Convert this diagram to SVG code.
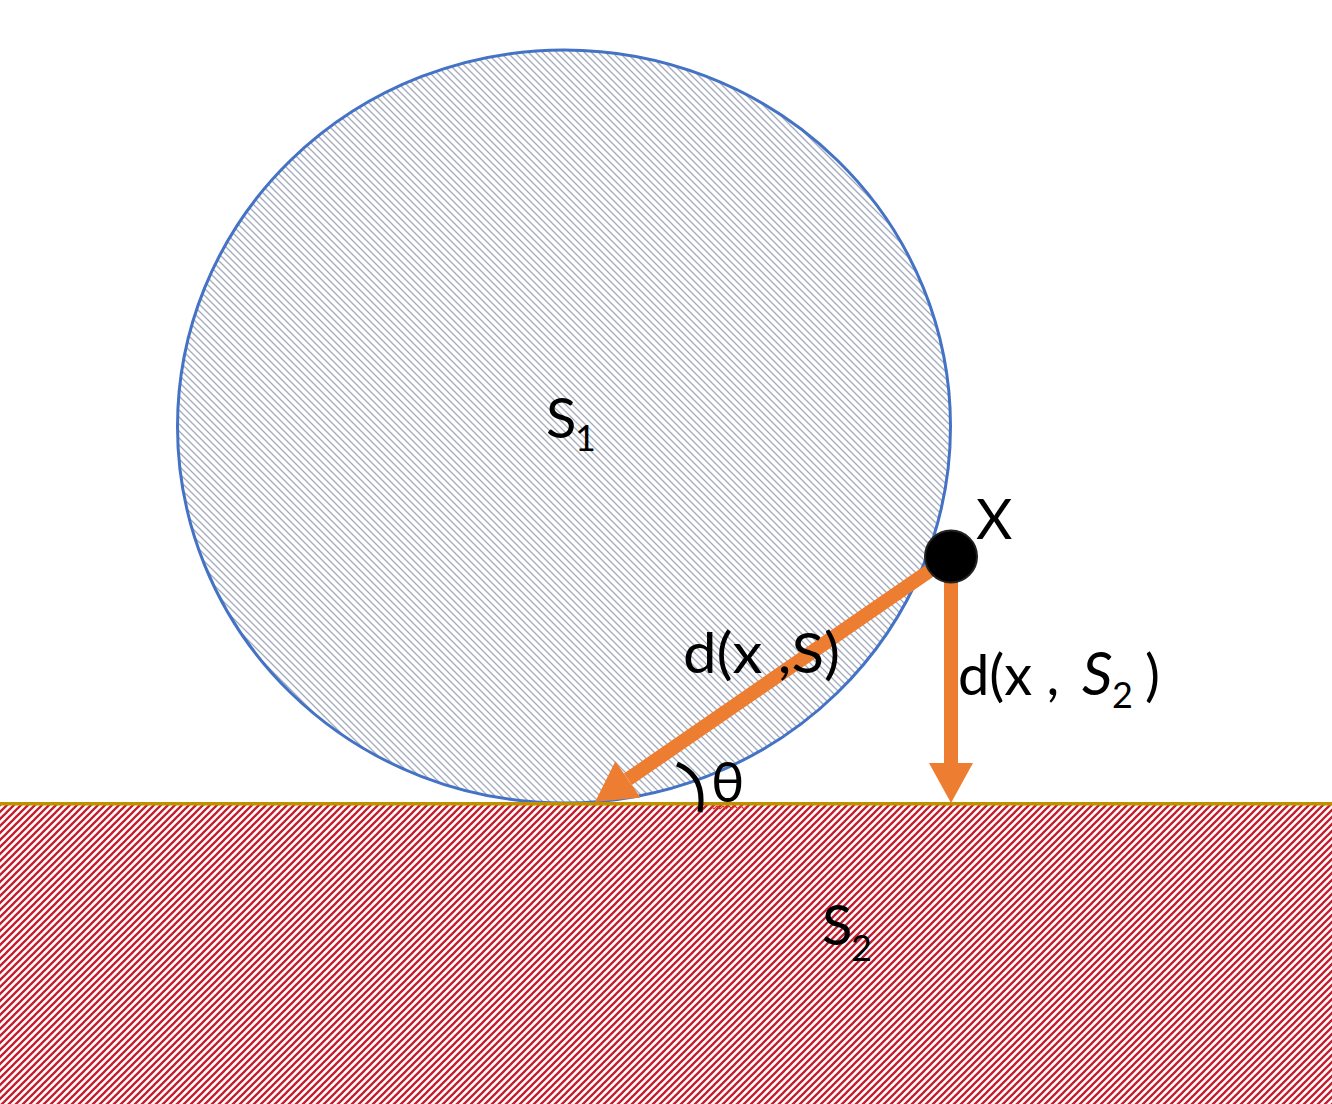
<svg xmlns="http://www.w3.org/2000/svg" width="1332" height="1104" viewBox="0 0 1332 1104">
<style>
.lbl{font-family:Lato,"Open Sans","Liberation Sans",sans-serif;font-size:56px;fill:#000}
.sub{font-size:36px}
.arrow{stroke:#ED7D31;stroke-width:14;fill:none}
</style>
<defs>
<pattern id="hatchBlue" patternUnits="userSpaceOnUse" width="7" height="7">
<rect width="7" height="7" fill="#fff"/>
<path d="M0,0 L7,7 M-3.5,3.5 L3.5,10.5 M3.5,-3.5 L10.5,3.5" stroke="#A3ABBD" stroke-width="1.3"/>
</pattern>
<pattern id="hatchRed" patternUnits="userSpaceOnUse" width="7" height="7">
<rect width="7" height="7" fill="#fff"/>
<path d="M0,7 L7,0 M-3.5,3.5 L3.5,-3.5 M3.5,10.5 L10.5,3.5" stroke="#C41E2E" stroke-width="2.3"/>
</pattern>
<marker id="head" markerUnits="userSpaceOnUse" markerWidth="42" markerHeight="46" refX="0" refY="22" orient="auto" overflow="visible">
<path d="M0,0 L40,22 L0,44 z" fill="#ED7D31"/>
</marker>
</defs>
<rect width="1332" height="1104" fill="#fff"/>
<g id="S2">
<rect x="0" y="805" width="1332" height="299" fill="url(#hatchRed)"/>
<text class="lbl" x="822" y="945">S<tspan class="sub" x="851" y="961">2</tspan></text>
</g>
<g id="S1">
<ellipse cx="564" cy="426.5" rx="386.5" ry="376.5" fill="url(#hatchBlue)" stroke="#4472C4" stroke-width="3"/>
<text class="lbl" x="546" y="438">S<tspan class="sub" x="575" y="451">1</tspan></text>
</g>
<g id="ground">
<line x1="0" y1="803.7" x2="1332" y2="803.7" stroke="#BF9000" stroke-width="3.5"/>
</g>
<g id="connectors">
<line class="arrow" x1="951" y1="556" x2="627.9" y2="779.3" marker-end="url(#head)"/>
<line class="arrow" x1="951" y1="575" x2="951" y2="763" marker-end="url(#head)"/>
</g>
<g id="X">
<circle cx="951" cy="556.5" r="26" fill="#000" stroke="#222" stroke-width="2"/>
<text class="lbl" x="976" y="539">X</text>
</g>
<g id="dxS">
<text class="lbl" x="683" y="673" textLength="157" lengthAdjust="spacingAndGlyphs">d(x ,S)</text>
</g>
<g id="dxS2">
<text class="lbl" x="958" y="695">d(x , <tspan font-style="italic" font-size="60" x="1082">S</tspan><tspan class="sub" x="1112" y="708">2</tspan><tspan x="1145" y="695">)</tspan></text>
</g>
<g id="theta">
<path d="M677,764 Q706,776 700,812" fill="none" stroke="#000" stroke-width="5"/>
<text class="lbl" x="711" y="802">θ</text>
<polyline points="711,806 714,809 717,806 720,809 723,806 726,809 729,806 732,809 735,806 738,809 741,806 744,809 747,806" fill="none" stroke="#E8302A" stroke-width="1.2"/>
</g>
</svg>
